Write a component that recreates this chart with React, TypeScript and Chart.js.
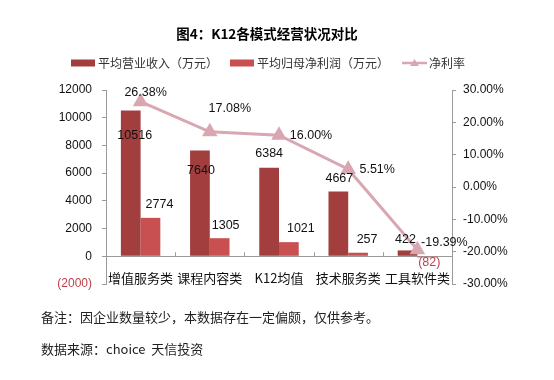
import React, { useEffect, useRef } from 'react';
import { Chart, registerables } from 'chart.js';

Chart.register(...registerables);

// ---------- data ----------
const TITLE = '图4：K12各模式经营状况对比';
const CATEGORIES = ['增值服务类', '课程内容类', 'K12均值', '技术服务类', '工具软件类'];
const SERIES_NAMES = ['平均营业收入（万元）', '平均归母净利润（万元）', '净利率'];
const REVENUE = [10516, 7640, 6384, 4667, 422];
const NET_PROFIT = [2774, 1305, 1021, 257, -82];
const NET_MARGIN = [26.38, 17.08, 16.0, 5.51, -19.39];
const LEFT_AXIS = { min: -2000, max: 12000, step: 2000 };
const RIGHT_AXIS = { min: -30, max: 30, step: 10 };
const NOTES = ['备注：因企业数量较少，本数据存在一定偏颇，仅供参考。', '数据来源：choice  天信投资'];

// ---------- style ----------
const FONT = "'Liberation Sans', 'Noto Sans CJK SC', sans-serif";
const CJK = "'Noto Sans CJK SC', 'Liberation Sans', sans-serif";
const DARK = '#a23e3e';
const LIGHT = '#c85050';
const LINE = '#d8a7b1';
const NEG = '#c0404a';
const TEXT = '#111111';
const AXIS = '#9a9a9a';

// label offsets relative to each mark (style only)
const BAR_LABEL_OFFSETS = [
  [[4, 25], [1, 20], [0, -14], [1, -13], [-2, -11]],
  [[9, -13], [6, -13], [12, -14], [9, -13], [2, 5]],
];
const LINE_LABEL_OFFSETS = [[5, -9], [20, -23], [32, 0], [29, 0], [27, -7]];

const fmtNum = (v: number) => (v < 0 ? `(${Math.abs(v)})` : `${v}`);
const fmtPct = (v: number) => `${v.toFixed(2)}%`;

const textPlugin = {
  id: 'customTexts',
  afterDatasetsDraw(chart: any) {
    const ctx = chart.ctx;
    ctx.save();
    // category boundary ticks pointing up from the zero line
    const xs = chart.scales.x;
    const y0 = chart.scales.y.getPixelForValue(0);
    ctx.strokeStyle = AXIS;
    ctx.lineWidth = 1;
    for (let i = 0; i <= CATEGORIES.length; i++) {
      const px = Math.round(xs.getPixelForValue(i - 0.5)) + 0.5;
      ctx.beginPath();
      ctx.moveTo(px, y0);
      ctx.lineTo(px, y0 - 4);
      ctx.stroke();
    }

    ctx.textAlign = 'center';
    ctx.textBaseline = 'middle';
    ctx.font = `12.5px ${FONT}`;
    [0, 1].forEach((di) => {
      const meta = chart.getDatasetMeta(di);
      meta.data.forEach((el: any, i: number) => {
        const v = chart.data.datasets[di].data[i] as number;
        const [dx, dy] = BAR_LABEL_OFFSETS[di][i];
        ctx.fillStyle = v < 0 ? NEG : TEXT;
        ctx.fillText(fmtNum(v), el.x + dx, el.y + dy);
      });
    });
    const lm = chart.getDatasetMeta(2);
    lm.data.forEach((el: any, i: number) => {
      const v = chart.data.datasets[2].data[i] as number;
      const [dx, dy] = LINE_LABEL_OFFSETS[i];
      ctx.fillStyle = TEXT;
      ctx.fillText(fmtPct(v), el.x + dx, el.y + dy);
    });
    ctx.restore();
  },
  afterDraw(chart: any) {
    const ctx = chart.ctx;
    ctx.save();
    // title
    ctx.fillStyle = '#000';
    ctx.font = `bold 13.5px ${CJK}`;
    ctx.textAlign = 'center';
    ctx.textBaseline = 'middle';
    ctx.fillText(TITLE, 267, 34);

    // legend
    ctx.font = `12px ${CJK}`;
    ctx.textAlign = 'left';
    const ly = 63;
    const items = [
      { x: 71, color: DARK, type: 'rect' },
      { x: 230, color: LIGHT, type: 'rect' },
      { x: 402, color: LINE, type: 'line' },
    ];
    items.forEach((it, i) => {
      if (it.type === 'rect') {
        ctx.fillStyle = it.color;
        ctx.fillRect(it.x, ly - 3.5, 24, 7);
      } else {
        ctx.strokeStyle = it.color;
        ctx.lineWidth = 2.5;
        ctx.beginPath();
        ctx.moveTo(it.x, ly);
        ctx.lineTo(it.x + 25, ly);
        ctx.stroke();
        ctx.fillStyle = it.color;
        ctx.beginPath();
        ctx.moveTo(it.x + 12.5, ly - 4);
        ctx.lineTo(it.x + 17, ly + 3);
        ctx.lineTo(it.x + 8, ly + 3);
        ctx.closePath();
        ctx.fill();
      }
      ctx.fillStyle = '#333';
      ctx.fillText(SERIES_NAMES[i], it.x + 27, ly);
    });

    // notes
    ctx.font = `13px ${CJK}`;
    ctx.fillStyle = '#222';
    ctx.fillText(NOTES[0], 41, 317);
    ctx.fillText(NOTES[1], 41, 349);
    ctx.restore();
  },
};

export default function App() {
  const ref = useRef<HTMLCanvasElement | null>(null);
  useEffect(() => {
    if (!ref.current) return;
    const chart = new Chart(ref.current, {
      type: 'bar',
      data: {
        labels: CATEGORIES,
        datasets: [
          {
            type: 'bar',
            label: SERIES_NAMES[0],
            data: REVENUE,
            backgroundColor: DARK,
            yAxisID: 'y',
            order: 1,
            categoryPercentage: 0.57,
            barPercentage: 1.0,
          },
          {
            type: 'bar',
            label: SERIES_NAMES[1],
            data: NET_PROFIT,
            backgroundColor: LIGHT,
            yAxisID: 'y',
            order: 1,
            categoryPercentage: 0.57,
            barPercentage: 1.0,
          },
          {
            type: 'line',
            label: SERIES_NAMES[2],
            data: NET_MARGIN,
            borderColor: LINE,
            backgroundColor: LINE,
            borderWidth: 3,
            pointStyle: 'triangle',
            pointRadius: 6,
            pointBackgroundColor: LINE,
            pointBorderColor: LINE,
            yAxisID: 'y1',
            order: 0,
            tension: 0,
          } as any,
        ],
      },
      options: {
        animation: false,
        responsive: false,
        layout: { padding: { left: 0, right: 0, top: 90, bottom: 96 } },
        plugins: {
          legend: { display: false },
          title: { display: false },
          tooltip: { enabled: false },
        },
        scales: {
          x: {
            position: { y: 0 } as any,
            grid: { display: false, drawTicks: false },
            border: { display: true, color: AXIS },
            ticks: { color: TEXT, font: { size: 13, family: CJK }, padding: 14, maxRotation: 0, autoSkip: false },
            afterFit: (s: any) => {
              s.height = 0;
            },
          },
          y: {
            position: 'left',
            min: LEFT_AXIS.min,
            max: LEFT_AXIS.max,
            grid: { drawOnChartArea: false, color: AXIS, tickLength: 4 },
            border: { color: AXIS },
            ticks: {
              stepSize: LEFT_AXIS.step,
              padding: 10,
              font: { size: 12, family: FONT },
              color: (c: any) => (c.tick && c.tick.value < 0 ? NEG : TEXT),
              callback: (v: any) => fmtNum(Number(v)),
            },
            afterFit: (s: any) => {
              s.width = 106;
            },
          },
          y1: {
            position: 'right',
            min: RIGHT_AXIS.min,
            max: RIGHT_AXIS.max,
            grid: { drawOnChartArea: false, color: AXIS, tickLength: 4 },
            border: { color: AXIS },
            ticks: {
              stepSize: RIGHT_AXIS.step,
              padding: 7,
              font: { size: 12, family: FONT },
              color: TEXT,
              callback: (v: any) => fmtPct(Number(v)),
            },
            afterFit: (s: any) => {
              s.width = 102;
            },
          },
        },
      },
      plugins: [textPlugin],
    });
    return () => chart.destroy();
  }, []);

  return (
    <div style={{ position: 'fixed', left: 0, top: 0, width: 554, height: 380, background: '#fff' }}>
      <canvas ref={ref} width={554} height={380} style={{ width: 554, height: 380, display: 'block' }} />
    </div>
  );
}
